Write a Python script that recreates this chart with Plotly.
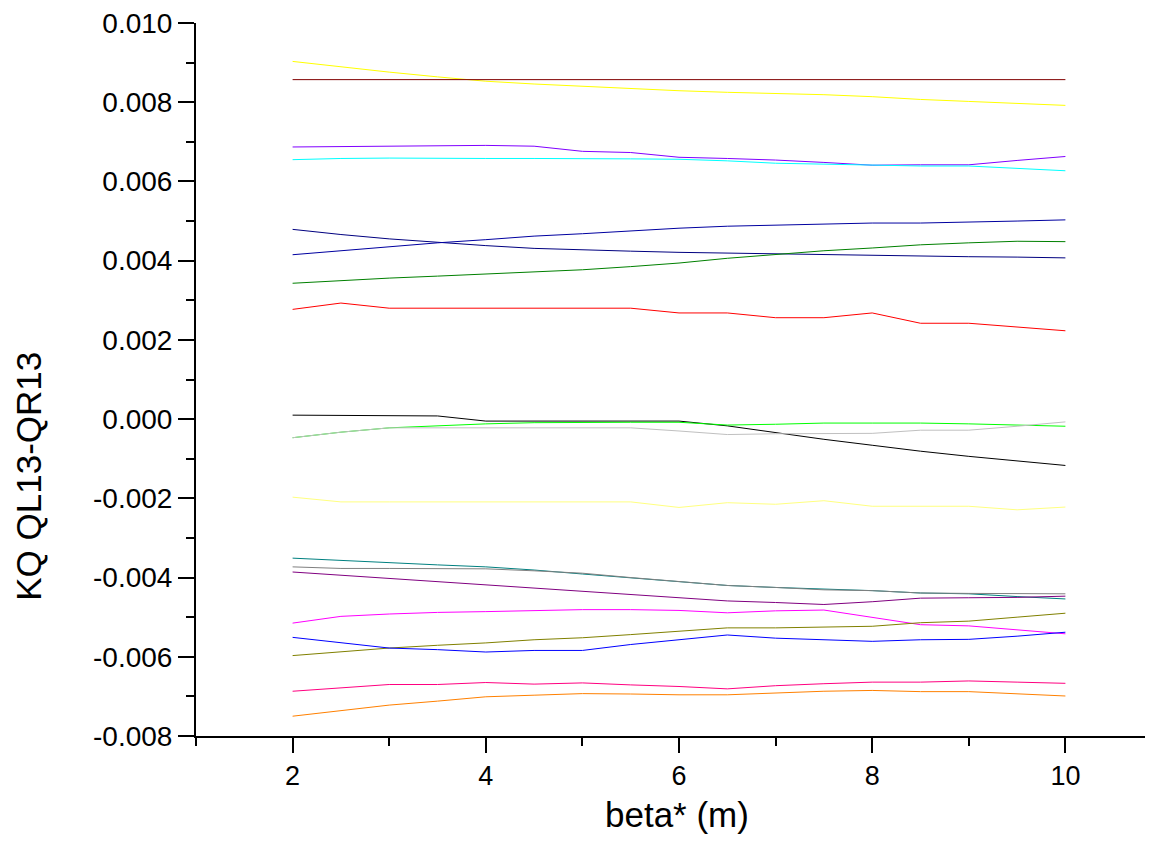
import plotly.graph_objects as go

beta = [2, 2.5, 3, 3.5, 4, 4.5, 5, 5.5, 6, 6.5, 7, 7.5, 8, 8.5, 9, 9.5, 10]

yellow = [0.00903, 0.00889, 0.00876, 0.00864, 0.00853, 0.00846, 0.00840, 0.00834, 0.00829,
          0.00825, 0.00822, 0.00819, 0.00814, 0.00807, 0.00802, 0.00797, 0.00792]
wine = [0.00857] * 17
violet = [0.00687, 0.00688, 0.00689, 0.00691, 0.00691, 0.00689, 0.00676, 0.00673, 0.00661,
          0.00658, 0.00654, 0.00648, 0.00641, 0.00642, 0.00642, 0.00653, 0.00663]
cyan = [0.00655, 0.00658, 0.00659, 0.00658, 0.00658, 0.00658, 0.00658, 0.00657, 0.00656,
        0.00652, 0.00646, 0.00644, 0.00641, 0.00639, 0.00639, 0.00633, 0.00627]
navy_a = [0.00479, 0.00466, 0.00455, 0.00446, 0.00438, 0.00431, 0.00427, 0.00424, 0.00421,
          0.00419, 0.00417, 0.00415, 0.00413, 0.00412, 0.00410, 0.00409, 0.00407]
navy_b = [0.00415, 0.00425, 0.00436, 0.00445, 0.00453, 0.00462, 0.00468, 0.00475, 0.00482,
          0.00487, 0.00490, 0.00493, 0.00495, 0.00495, 0.00497, 0.00500, 0.00503]
green = [0.00343, 0.00350, 0.00356, 0.00361, 0.00366, 0.00371, 0.00377, 0.00385, 0.00394,
         0.00406, 0.00416, 0.00425, 0.00432, 0.00440, 0.00445, 0.00449, 0.00448]
red = [0.00277, 0.00293, 0.00280, 0.00280, 0.00280, 0.00280, 0.00280, 0.00280, 0.00268,
       0.00268, 0.00256, 0.00256, 0.00268, 0.00242, 0.00242, 0.00233, 0.00223]
black = [0.00010, 0.00009, 0.00008, 0.00008, -0.00005, -0.00005, -0.00005, -0.00005, -0.00005,
         -0.00017, -0.00034, -0.00051, -0.00066, -0.00081, -0.00094, -0.00106, -0.00117]
lime = [-0.00047, -0.00033, -0.00022, -0.00017, -0.00012, -0.00009, -0.00008, -0.00008, -0.00008,
        -0.00015, -0.00013, -0.00010, -0.00010, -0.00010, -0.00012, -0.00015, -0.00018]
silver = [-0.00047, -0.00033, -0.00022, -0.00022, -0.00022, -0.00022, -0.00022, -0.00022, -0.00030,
          -0.00039, -0.00037, -0.00036, -0.00036, -0.00028, -0.00028, -0.00018, -0.00007]
lt_yellow = [-0.00197, -0.00209, -0.00209, -0.00209, -0.00209, -0.00209, -0.00209, -0.00209, -0.00223,
             -0.00211, -0.00215, -0.00206, -0.00220, -0.00220, -0.00220, -0.00229, -0.00222]
teal = [-0.00351, -0.00357, -0.00363, -0.00368, -0.00373, -0.00381, -0.00391, -0.00401, -0.00411,
        -0.00420, -0.00425, -0.00429, -0.00433, -0.00439, -0.00441, -0.00448, -0.00454]
gray = [-0.00373, -0.00377, -0.00377, -0.00377, -0.00378, -0.00383, -0.00389, -0.00400, -0.00410,
        -0.00420, -0.00425, -0.00431, -0.00433, -0.00439, -0.00440, -0.00441, -0.00441]
purple = [-0.00386, -0.00394, -0.00402, -0.00410, -0.00419, -0.00426, -0.00435, -0.00443, -0.00451,
          -0.00459, -0.00463, -0.00468, -0.00461, -0.00452, -0.00451, -0.00450, -0.00447]
magenta = [-0.00515, -0.00498, -0.00492, -0.00488, -0.00486, -0.00483, -0.00481, -0.00481, -0.00483,
           -0.00489, -0.00484, -0.00482, -0.00500, -0.00519, -0.00522, -0.00532, -0.00542]
olive = [-0.00597, -0.00587, -0.00578, -0.00571, -0.00565, -0.00557, -0.00552, -0.00544, -0.00535,
         -0.00527, -0.00527, -0.00525, -0.00523, -0.00514, -0.00510, -0.00500, -0.00490]
blue = [-0.00551, -0.00565, -0.00578, -0.00582, -0.00588, -0.00584, -0.00584, -0.00569, -0.00557,
        -0.00545, -0.00553, -0.00557, -0.00561, -0.00557, -0.00556, -0.00548, -0.00538]
pink = [-0.00687, -0.00679, -0.00670, -0.00670, -0.00665, -0.00669, -0.00666, -0.00671, -0.00675,
        -0.00681, -0.00673, -0.00668, -0.00664, -0.00664, -0.00661, -0.00664, -0.00667]
orange = [-0.00750, -0.00736, -0.00722, -0.00712, -0.00701, -0.00697, -0.00693, -0.00694, -0.00696,
          -0.00696, -0.00691, -0.00687, -0.00685, -0.00688, -0.00688, -0.00693, -0.00699]

series = [
    (yellow, "#FFFF00"), (wine, "#800000"), (violet, "#8000FF"), (cyan, "#00FFFF"),
    (navy_a, "#000080"), (navy_b, "#0000A0"), (green, "#008000"), (red, "#FF0000"),
    (black, "#000000"), (lime, "#00FF00"), (silver, "#C0C0C0"), (lt_yellow, "#FFFF80"),
    (teal, "#008080"), (gray, "#808080"), (purple, "#800080"), (magenta, "#FF00FF"),
    (olive, "#808000"), (blue, "#0000FF"), (pink, "#FF0080"), (orange, "#FF8000"),
]

y_tickvals = [-0.008, -0.006, -0.004, -0.002, 0.0, 0.002, 0.004, 0.006, 0.008, 0.010]
y_ticktext = ["-0.008", "-0.006", "-0.004", "-0.002", "0.000", "0.002", "0.004", "0.006", "0.008", "0.010"]
x_tickvals = [2, 4, 6, 8, 10]
x_ticktext = ["2", "4", "6", "8", "10"]

fig = go.Figure()
for vals, col in series:
    fig.add_trace(go.Scatter(x=beta, y=vals, mode="lines",
                             line=dict(color=col, width=1), showlegend=False))

font_family = "Arial, Liberation Sans, sans-serif"
# page body has an 8px margin; size the figure so it fills the 1153x849 window
W, H = 1145, 841
ml, mr, mt, mb = 188, 0, 13, 113
pw = W - ml - mr
ph = H - mt - mb
OFF = 8  # body margin

def px_to_paper_x(sx):
    return (sx - OFF - ml) / pw

def px_to_paper_y(sy):
    return ((H - mb) - (sy - OFF)) / ph

fig.update_layout(
    width=W, height=H,
    margin=dict(l=ml, r=mr, t=mt, b=mb, pad=0),
    plot_bgcolor="white", paper_bgcolor="white",
    font=dict(family=font_family, size=28, color="black"),
    xaxis=dict(range=[1, 1 + pw / 96.6], showgrid=False, zeroline=False,
               showline=True, linecolor="black", linewidth=2,
               ticks="outside", ticklen=15, tickwidth=2, tickcolor="black",
               tickvals=x_tickvals, ticktext=x_ticktext,
               tickfont=dict(size=27, family=font_family),
               ticklabeloverflow="allow",
               minor=dict(ticks="outside", ticklen=8, tickwidth=2, tickcolor="black",
                          tick0=1, dtick=1)),
    yaxis=dict(range=[-0.008, 0.010], showgrid=False, zeroline=False,
               showline=True, linecolor="black", linewidth=2,
               ticks="outside", ticklen=16, tickwidth=2, tickcolor="black",
               tickvals=y_tickvals, ticktext=y_ticktext,
               tickfont=dict(size=28, family=font_family),
               ticklabeloverflow="allow",
               minor=dict(ticks="outside", ticklen=8, tickwidth=2, tickcolor="black",
                          tick0=0, dtick=0.001)),
    annotations=[
        dict(text="beta* (m)", xref="paper", yref="paper",
             x=px_to_paper_x(677), y=px_to_paper_y(815),
             xanchor="center", yanchor="middle", showarrow=False,
             font=dict(size=35, family=font_family)),
        dict(text="KQ QL13-QR13", xref="paper", yref="paper",
             x=px_to_paper_x(29), y=px_to_paper_y(476),
             xanchor="center", yanchor="middle", showarrow=False, textangle=-90,
             font=dict(size=35, family=font_family)),
    ],
)

fig.write_html("out.html")
